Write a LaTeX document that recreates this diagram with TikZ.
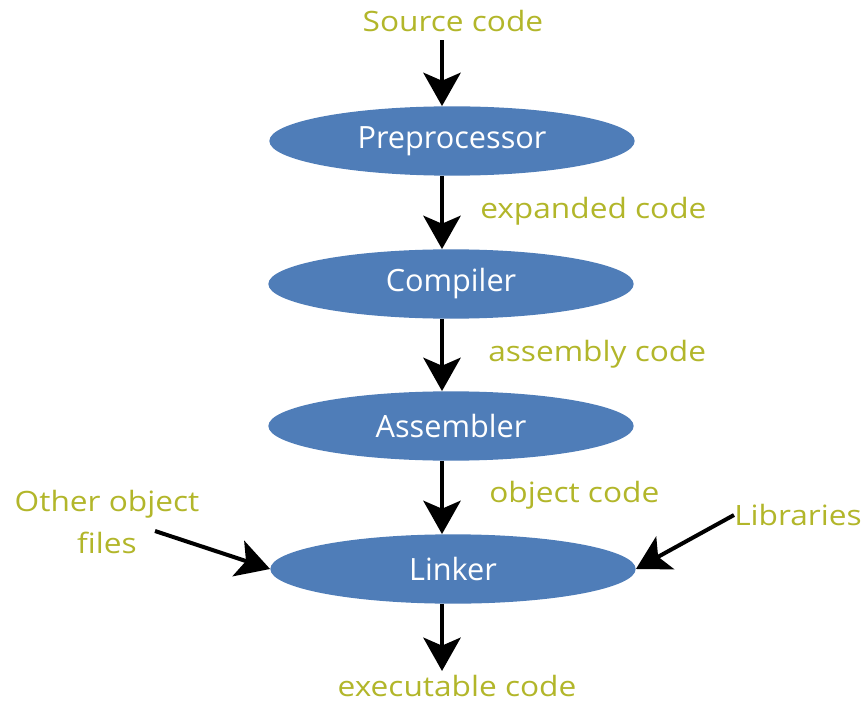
\documentclass[tikz,border=0pt]{standalone}
\usepackage{fontspec}
\setmainfont{Open Sans}
\newfontfamily\labelfont[FakeStretch=1.13]{Open Sans}
\usetikzlibrary{shapes.geometric,arrows.meta}
\definecolor{stageblue}{RGB}{79,125,184}
\definecolor{flowtext}{RGB}{178,182,42}
\tikzset{
  stage/.style={ellipse, fill=stageblue, text=white, inner sep=0pt,
    minimum width=274pt, minimum height=52pt, font=\fontsize{23}{26}\selectfont},
  flowlabel/.style={text=flowtext, inner sep=0pt, align=center,
    font=\labelfont\fontsize{21}{32}\selectfont},
  flow/.style={line width=3pt, -{Stealth[length=25pt, width=28pt, inset=6pt]}}
}
\begin{document}
\begin{tikzpicture}[x=0.75pt, y=-0.75pt]
  \useasboundingbox (0,0) rectangle (867,702);
  % pipeline stages
  \node[stage] (pre) at (452,141) {Preprocessor};
  \node[stage] (comp) at (451,284) {Compiler};
  \node[stage] (asm) at (451,426) {Assembler};
  \node[stage] (link) at (453,569) {Linker};
  % inputs, intermediate products and output
  \node[flowlabel] (src) at (453,21) {Source code};
  \node[flowlabel, anchor=west] (exp) at (480,211) {expanded code};
  \node[flowlabel, anchor=west] (asmc) at (488,354) {assembly code};
  \node[flowlabel, anchor=west] (obj) at (489,495) {object code};
  \node[flowlabel] (other) at (107,522) {Other object\\files};
  \node[flowlabel, anchor=east] (lib) at (862,515) {Libraries};
  \node[flowlabel] (exe) at (457,686) {executable code};
  % vertical flow line
  \coordinate (ax) at (442,0);
  \draw[flow] (src.south -| ax) ++(0,8) -- (pre.north -| ax);
  \draw[flow] (pre.south -| ax) -- (comp.north -| ax);
  \draw[flow] (comp.south -| ax) -- (asm.north -| ax);
  \draw[flow] (asm.south -| ax) -- (link.north -| ax);
  \draw[flow] (link.south -| ax) -- ([yshift=3pt]exe.north -| ax);
  % side inputs of the linker
  \draw[flow] (155,531) -- (link.west);
  \draw[flow] (lib.west) -- (link.east);
\end{tikzpicture}
\end{document}
